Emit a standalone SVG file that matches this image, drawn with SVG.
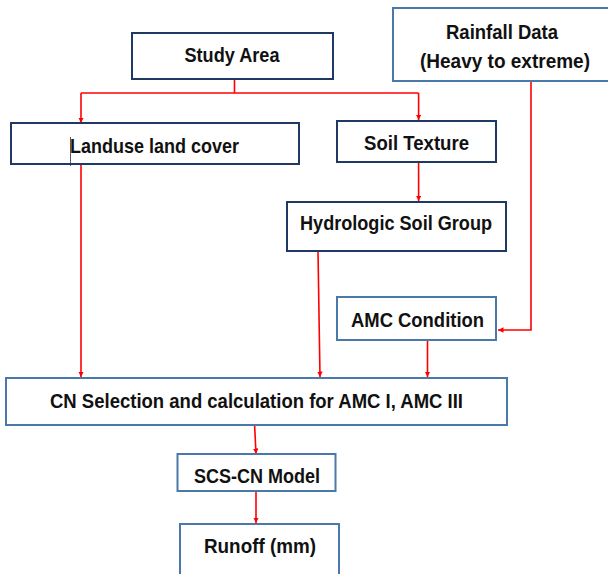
<svg xmlns="http://www.w3.org/2000/svg" width="608" height="574" viewBox="0 0 608 574">
<style>
.dark{fill:#fff;stroke:#1f3864;stroke-width:2}
.light{fill:#fff;stroke:#4a78a8;stroke-width:2}
.t{font-family:"Liberation Sans",Arial,sans-serif;font-weight:bold;font-size:20.5px;fill:#111;text-anchor:middle}
.c{fill:none;stroke:#ff0000;stroke-width:1.6}
</style>
<defs>
<marker id="ah" viewBox="0 0 10 10" refX="10" refY="5" markerWidth="5.5" markerHeight="5.5" orient="auto" markerUnits="userSpaceOnUse">
<path d="M0,0 L10,5 L0,10 z" fill="#ff0000"/>
</marker>
</defs>
<rect width="608" height="574" fill="#fff"/>
<g id="connectors">
<polyline class="c" points="234.5,79 234.5,93"/>
<polyline class="c" points="81,93 418.6,93"/>
<polyline class="c" points="81,93 81,123" marker-end="url(#ah)"/>
<polyline class="c" points="418.6,93 418.6,120" marker-end="url(#ah)"/>
<polyline class="c" points="566,80 531,80 531,330 498,330" marker-end="url(#ah)"/>
<polyline class="c" points="418.6,162 418.6,201" marker-end="url(#ah)"/>
<polyline class="c" points="81,164 81,377" marker-end="url(#ah)"/>
<polyline class="c" points="318,251 320,377" marker-end="url(#ah)"/>
<polyline class="c" points="427.5,340 427.5,377" marker-end="url(#ah)"/>
<polyline class="c" points="254.6,425 256,454" marker-end="url(#ah)"/>
<polyline class="c" points="256,491 256,523" marker-end="url(#ah)"/>
</g>
<g id="study-area">
<rect class="dark" x="132" y="33" width="201" height="46"/>
<text class="t" x="232" y="62" textLength="95" lengthAdjust="spacingAndGlyphs">Study Area</text>
</g>
<g id="rainfall-data">
<rect class="light" x="393" y="8" width="218" height="73"/>
<text class="t" x="502" y="39" textLength="112" lengthAdjust="spacingAndGlyphs">Rainfall Data</text>
<text class="t" x="505" y="68" textLength="170" lengthAdjust="spacingAndGlyphs">(Heavy to extreme)</text>
</g>
<g id="landuse">
<rect class="dark" x="11" y="123" width="288" height="41"/>
<text class="t" x="154.5" y="153" textLength="169" lengthAdjust="spacingAndGlyphs">Landuse land cover</text>
<line x1="70.5" y1="137" x2="70.5" y2="166" stroke="#333" stroke-width="0.8"/>
</g>
<g id="soil-texture">
<rect class="dark" x="337" y="121" width="159" height="41"/>
<text class="t" x="416.5" y="150" textLength="105" lengthAdjust="spacingAndGlyphs">Soil Texture</text>
</g>
<g id="hydrologic-soil-group">
<rect class="dark" x="287" y="202" width="219" height="49"/>
<text class="t" x="396" y="230" textLength="192" lengthAdjust="spacingAndGlyphs">Hydrologic Soil Group</text>
</g>
<g id="amc-condition">
<rect class="light" x="337" y="297" width="159" height="43"/>
<text class="t" x="417.5" y="327" textLength="133" lengthAdjust="spacingAndGlyphs">AMC Condition</text>
</g>
<g id="cn-selection">
<rect class="light" x="6" y="378" width="501" height="47"/>
<text class="t" x="256.5" y="407.5" textLength="413" lengthAdjust="spacingAndGlyphs">CN Selection and calculation for AMC I, AMC III</text>
</g>
<g id="scs-cn-model">
<rect class="light" x="177.5" y="454" width="158" height="37"/>
<text class="t" x="257" y="483" textLength="126" lengthAdjust="spacingAndGlyphs">SCS-CN Model</text>
</g>
<g id="runoff">
<rect class="light" x="180" y="524" width="159" height="56"/>
<text class="t" x="260" y="553" textLength="112" lengthAdjust="spacingAndGlyphs">Runoff (mm)</text>
</g>
</svg>
